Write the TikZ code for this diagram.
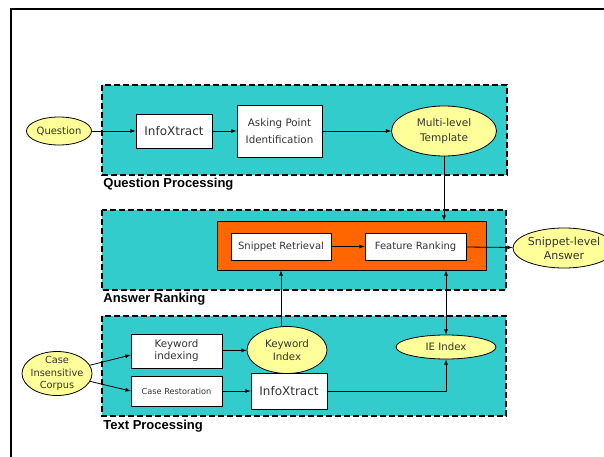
\documentclass[tikz,border=0pt]{standalone}
\usepackage{fontspec}
\setmainfont{DejaVu Sans}
\newfontfamily\labelfont{Liberation Sans}
\usepackage{tikz}
\usetikzlibrary{arrows,shapes,positioning,calc}
\usepackage{xcolor}
\definecolor{stageteal}{RGB}{51,204,204}
\definecolor{rankorange}{RGB}{255,102,0}
\definecolor{dataylw}{RGB}{255,255,153}

\tikzset{
    stagebox/.style={draw, line width=1.6pt, dash pattern=on 6pt off 3pt, fill=stageteal},
    seclabel/.style={anchor=west, inner sep=0pt, font=\labelfont\bfseries\fontsize{13}{15}\selectfont},
    procbox/.style={draw, fill=white, inner sep=0pt, align=center, text=black!80},
    dataell/.style={ellipse, draw, fill=dataylw, inner sep=0pt, align=center, text=black!80},
}

\begin{document}
\begin{tikzpicture}[x=1pt, y=-1pt, >=latex, line width=0.8pt]
    \useasboundingbox (0,0) rectangle (604,457);
    % Frame
    \draw[line width=2pt] (11,457) -- (11,9) -- (604,9);

    % Stages
    \draw[stagebox] (102,85) rectangle (507,175);
    \draw[stagebox] (102,210) rectangle (506,290);
    \draw[stagebox] (102,316) rectangle (506,416);
    \node[seclabel] (qplabel) at (103,184) {Question Processing};
    \node[seclabel] (arlabel) at (103,299) {Answer Ranking};
    \node[seclabel] (tplabel) at (103,426) {Text Processing};

    % Question processing
    \node[dataell, minimum width=65, minimum height=28, font=\fontsize{10}{12}\selectfont] (question) at (59,131) {Question};
    \node[procbox, minimum width=76, minimum height=34, font=\fontsize{12}{14}\selectfont] (qinfo) at (174,131) {InfoXtract};
    \node[procbox, minimum width=85, minimum height=52, font=\fontsize{10.3}{17}\selectfont] (asking) at (279.5,131) {Asking Point\\Identification};
    \node[dataell, minimum width=105, minimum height=50, font=\fontsize{10.5}{15}\selectfont] (template) at (444,131) {Multi-level\\Template};

    % Answer ranking
    \node[draw, fill=rankorange, minimum width=269, minimum height=49, inner sep=0pt] (ranker) at (351.5,245.5) {};
    \node[procbox, minimum width=100, minimum height=27, font=\fontsize{10}{12}\selectfont] (snippet) at (281,246.5) {Snippet Retrieval};
    \node[procbox, minimum width=101, minimum height=27, font=\fontsize{10}{12}\selectfont] (feature) at (415.5,246.5) {Feature Ranking};
    \node[dataell, minimum width=92, minimum height=40, font=\fontsize{11}{14}\selectfont] (answer) at (564,248) {Snippet-level\\Answer};

    % Text processing
    \node[dataell, minimum width=70, minimum height=44, inner sep=-6pt, font=\fontsize{9.8}{12.8}\selectfont] (corpus) at (57,373.5) {Case\\Insensitive\\Corpus};
    \node[procbox, minimum width=91, minimum height=34, font=\fontsize{10.3}{12}\selectfont] (kwidx) at (176.5,351) {Keyword\\indexing};
    \node[procbox, minimum width=91, minimum height=30, font=\fontsize{8.2}{10}\selectfont] (restore) at (176.5,391) {Case Restoration};
    \node[dataell, minimum width=80, minimum height=47, font=\fontsize{10.3}{13}\selectfont] (kwindex) at (287,350) {Keyword\\Index};
    \node[procbox, minimum width=76, minimum height=36, font=\fontsize{12}{14}\selectfont] (tinfo) at (289,391) {InfoXtract};
    \node[dataell, minimum width=100, minimum height=24, font=\fontsize{10.2}{12}\selectfont] (ieindex) at (446,347) {IE Index};

    % Connectors
    \draw[->] (question) -- (qinfo);
    \draw[->] (qinfo) -- (asking);
    \draw[->] (asking) -- (template);
    \draw[->] (template.south) -- (template.south |- ranker.north);
    \draw[->] (snippet) -- (feature);
    \draw[->] (feature) -- (answer);
    \draw[->] (kwindex.north -| snippet) -- (ranker.south -| snippet);
    \draw[<->] (ieindex.north) -- (ieindex.north |- ranker.south);
    \draw[->] (corpus) -- ([yshift=-4pt]kwidx.west);
    \draw[->] (corpus) -- (restore.west);
    \draw[->] (kwidx) -- (kwindex);
    \draw[->] (restore) -- (tinfo);
    \draw[->] (tinfo.east) -| (ieindex.south);
\end{tikzpicture}
\end{document}
